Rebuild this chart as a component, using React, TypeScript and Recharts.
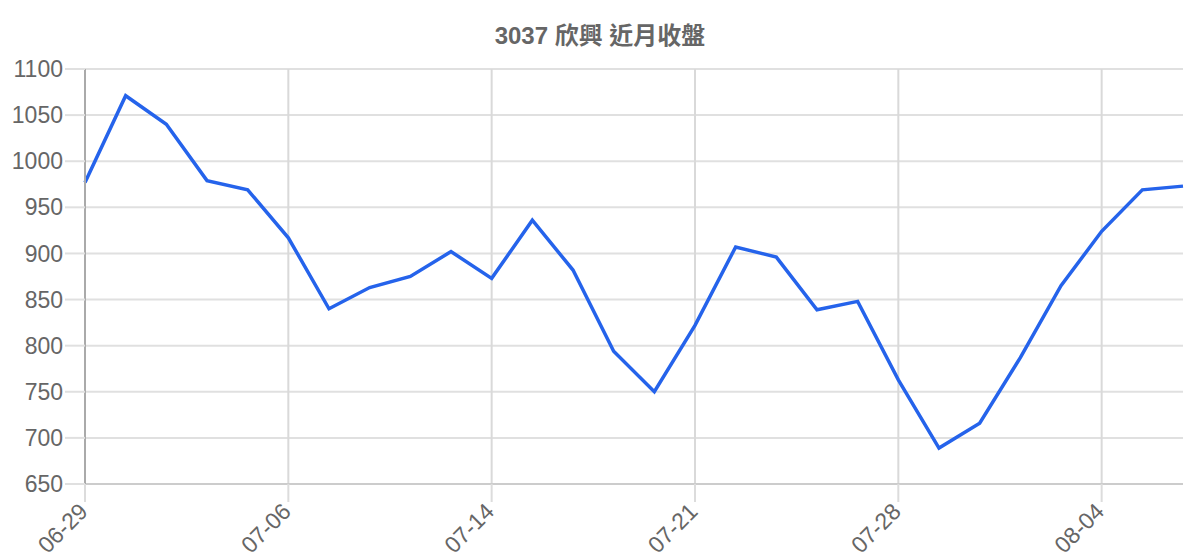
import {
  LineChart,
  Line,
  XAxis,
  YAxis,
  CartesianGrid,
  ReferenceLine,
} from "recharts";

const dates = [
  "06-29", "06-30", "07-01", "07-02", "07-03", "07-06", "07-07",
  "07-08", "07-09", "07-10", "07-14", "07-15", "07-16", "07-17",
  "07-18", "07-21", "07-22", "07-23", "07-24", "07-25", "07-28",
  "07-29", "07-30", "07-31", "08-01", "08-04", "08-05", "08-06",
];

const closes = [
  977, 1071, 1040, 979, 969, 917, 840,
  863, 875, 902, 873, 936, 882, 794,
  750, 822, 907, 896, 839, 848, 763,
  689, 716, 787, 865, 924, 969, 973,
];

const yTicks = [650, 700, 750, 800, 850, 900, 950, 1000, 1050, 1100];

const labelledDates = ["06-29", "07-06", "07-14", "07-21", "07-28", "08-04"];

const data = dates.map((d, i) => ({ date: d, close: closes[i] }));

const FONT = '"Liberation Sans", Arial, "Noto Sans CJK TC", sans-serif';

function DateTick({ x, y, payload }: any) {
  return (
    <g transform={`translate(${x + 4},${y + 10})`}>
      <text
        textAnchor="end"
        transform="rotate(-45)"
        fill="#666"
        fontSize={23}
        fontFamily={FONT}
      >
        {payload.value}
      </text>
    </g>
  );
}

export default function App() {
  return (
    <div
      style={{
        position: "absolute",
        left: 0,
        top: 0,
        width: 1200,
        height: 560,
        background: "#fff",
        fontFamily: FONT,
      }}
    >
      <div
        style={{
          position: "absolute",
          top: 24,
          left: 0,
          width: 1200,
          textAlign: "center",
          fontSize: 24,
          lineHeight: "24px",
          fontWeight: "bold",
          color: "#666",
        }}
      >
        3037 欣興 近月收盤
      </div>
      <LineChart
        width={1200}
        height={560}
        data={data}
        margin={{ top: 69, right: 17, bottom: 0, left: 0 }}
      >
        <CartesianGrid vertical={false} stroke="#e0e0e0" strokeWidth={2} />
        {labelledDates.map((d) => (
          <ReferenceLine key={d} x={d} stroke="#d9d9d9" strokeWidth={2} />
        ))}
        <XAxis
          dataKey="date"
          interval={4}
          height={76}
          tickSize={18}
          tickMargin={1}
          tickLine={{ stroke: "#dcdcdc", strokeWidth: 2 }}
          axisLine={{ stroke: "#cccccc", strokeWidth: 2 }}
          tick={<DateTick />}
        />
        <YAxis
          domain={[650, 1100]}
          ticks={yTicks}
          width={85}
          tickSize={20}
          tickMargin={2}
          tickLine={{ stroke: "#e0e0e0", strokeWidth: 2 }}
          axisLine={{ stroke: "#aaaaaa", strokeWidth: 2 }}
          tick={{ fill: "#666", fontSize: 23, fontFamily: FONT }}
        />
        <Line
          type="linear"
          dataKey="close"
          stroke="#2563eb"
          strokeWidth={3.5}
          dot={false}
          isAnimationActive={false}
        />
      </LineChart>
    </div>
  );
}
